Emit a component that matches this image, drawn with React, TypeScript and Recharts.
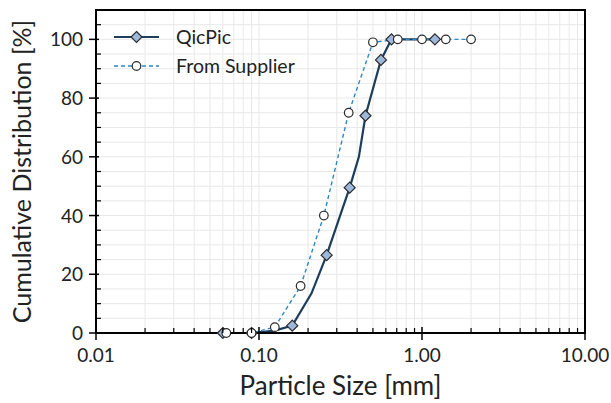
import React from "react";
import { LineChart, Line, XAxis, YAxis, CartesianGrid, ReferenceArea, Legend } from "recharts";

const qicPicSize = [0.06, 0.09, 0.125, 0.16, 0.21, 0.26, 0.36, 0.41, 0.45, 0.56, 0.65, 1.2];
const qicPicCum = [0, 0, 0.8, 2.5, 13.5, 26.5, 49.5, 60, 74, 93, 100, 100];
const qicPicMarked = [0.06, 0.09, 0.16, 0.26, 0.36, 0.45, 0.56, 0.65, 1.2];

const supplierSize = [0.063, 0.09, 0.125, 0.18, 0.25, 0.355, 0.5, 0.71, 1.0, 1.4, 2.0];
const supplierCum = [0, 0, 2, 16, 40, 75, 99, 100, 100, 100, 100];

const xMajorTicks = [0.01, 0.1, 1, 10];
const yMajorTicks = [0, 20, 40, 60, 80, 100];
const seriesNames = ["QicPic", "From Supplier"];

const qicData = qicPicSize.map((x, i) => ({ x, y: qicPicCum[i] }));
const supData = supplierSize.map((x, i) => ({ x, y: supplierCum[i] }));

const xTicks: number[] = [];
for (let d = 0; d < xMajorTicks.length - 1; d++) {
  for (let k = 1; k <= 9; k++) xTicks.push(+(xMajorTicks[d] * k).toPrecision(6));
}
xTicks.push(xMajorTicks[xMajorTicks.length - 1]);
const yTicks: number[] = [];
for (let v = 0; v <= 110; v += 5) yTicks.push(v);

const FONT = "Lato, 'Open Sans', sans-serif";
const QIC_LINE = "#1c3d5e";
const QIC_FILL = "#9db8da";
const SUP_LINE = "#2d86c6";
const MARK_STROKE = "#2b2b2b";
const TXT = "#222";

const isMajorX = (v: number) => xMajorTicks.some((m) => Math.abs(v / m - 1) < 1e-6);

const XTick = (props: any) => {
  const { x, y, payload } = props;
  const v = payload.value;
  if (isMajorX(v)) {
    return (
      <g>
        <line x1={x} x2={x} y1={y - 6} y2={y + 7} stroke="#000" strokeWidth={1.5} />
        <text x={x} y={y + 29} textAnchor="middle" fontFamily={FONT} fontSize={19} fill={TXT}>
          {v.toFixed(2)}
        </text>
      </g>
    );
  }
  return <line x1={x} x2={x} y1={y} y2={y - 5} stroke="#000" strokeWidth={1.2} />;
};

const YTick = (props: any) => {
  const { x, y, payload } = props;
  const v = payload.value;
  if (yMajorTicks.includes(v)) {
    return (
      <g>
        <line x1={x - 7} x2={x + 3} y1={y} y2={y} stroke="#000" strokeWidth={1.5} />
        <text x={x - 13} y={y + 7} textAnchor="end" fontFamily={FONT} fontSize={19} fill={TXT}>
          {v}
        </text>
      </g>
    );
  }
  if (v >= 110) return <g />;
  return <line x1={x} x2={x + 5} y1={y} y2={y} stroke="#000" strokeWidth={1.2} />;
};

const Diamond = (props: any) => {
  const { cx, cy, payload } = props;
  if (cx == null || cy == null) return <g />;
  if (!qicPicMarked.some((m) => Math.abs(m - payload.x) < 1e-9)) return <g key={`d${payload.x}`} />;
  const r = 5.5;
  return (
    <path
      key={`d${payload.x}`}
      d={`M${cx},${cy - r}L${cx + r},${cy}L${cx},${cy + r}L${cx - r},${cy}Z`}
      fill={QIC_FILL}
      stroke={MARK_STROKE}
      strokeWidth={1.2}
    />
  );
};

const Circle = (props: any) => {
  const { cx, cy, payload } = props;
  if (cx == null || cy == null) return <g />;
  return <circle key={`c${payload.x}`} cx={cx} cy={cy} r={4.3} fill="#fff" stroke={MARK_STROKE} strokeWidth={1.2} />;
};

const LegendContent = () => (
  <svg width={320} height={90}>
    <line x1={114} x2={159} y1={37} y2={37} stroke={QIC_LINE} strokeWidth={2.2} />
    <path d="M136.5,31.5L142,37L136.5,42.5L131,37Z" fill={QIC_FILL} stroke={MARK_STROKE} strokeWidth={1.2} />
    <text x={176} y={44} fontFamily={FONT} fontSize={19.5} fill={TXT}>{seriesNames[0]}</text>
    <line x1={114} x2={159} y1={66} y2={66} stroke={SUP_LINE} strokeWidth={1.4} strokeDasharray="4 3" />
    <circle cx={136.5} cy={66} r={4.3} fill="#fff" stroke={MARK_STROKE} strokeWidth={1.2} />
    <text x={176} y={73} fontFamily={FONT} fontSize={19.5} fill={TXT}>{seriesNames[1]}</text>
  </svg>
);

export default function App() {
  return (
    <div style={{ position: "absolute", left: 0, top: 0, width: 611, height: 403, background: "#fff" }}>
      <LineChart width={611} height={403} margin={{ top: 10, right: 26, left: 0, bottom: 0 }}>
        <CartesianGrid stroke="#e8e8e8" strokeWidth={1} />
        <XAxis
          dataKey="x"
          type="number"
          scale="log"
          domain={[0.01, 10]}
          ticks={xTicks}
          interval={0}
          allowDataOverflow
          height={70}
          tickSize={0}
          tickMargin={0}
          tickLine={false}
          tick={<XTick />}
          axisLine={{ stroke: "#000", strokeWidth: 2 }}
          label={{ value: "Particle Size [mm]", position: "insideBottom", offset: 8, fontFamily: FONT, fontSize: 26, fill: TXT }}
        />
        <YAxis
          dataKey="y"
          type="number"
          domain={[0, 110]}
          ticks={yTicks}
          interval={0}
          width={96}
          tickSize={0}
          tickMargin={0}
          tickLine={false}
          tick={<YTick />}
          axisLine={{ stroke: "#000", strokeWidth: 2 }}
          label={{ value: "Cumulative Distribution [%]", angle: -90, position: "insideLeft", offset: 22, fontFamily: FONT, fontSize: 25, fill: TXT, style: { textAnchor: "middle" } }}
        />
        <ReferenceArea x1={0.01} x2={10} y1={0} y2={110} fill="none" stroke="#000" strokeWidth={2} ifOverflow="visible" />
        <Line
          data={qicData}
          dataKey="y"
          name={seriesNames[0]}
          type="linear"
          stroke={QIC_LINE}
          strokeWidth={2.2}
          dot={<Diamond />}
          activeDot={false}
          isAnimationActive={false}
        />
        <Line
          data={supData}
          dataKey="y"
          name={seriesNames[1]}
          type="linear"
          stroke={SUP_LINE}
          strokeWidth={1.4}
          strokeDasharray="4 3"
          dot={<Circle />}
          activeDot={false}
          isAnimationActive={false}
        />
        <Legend
          layout="vertical"
          align="center"
          verticalAlign="middle"
          content={<LegendContent />}
          wrapperStyle={{ left: 0, top: 0, width: 320, height: 90 }}
        />
      </LineChart>
    </div>
  );
}
